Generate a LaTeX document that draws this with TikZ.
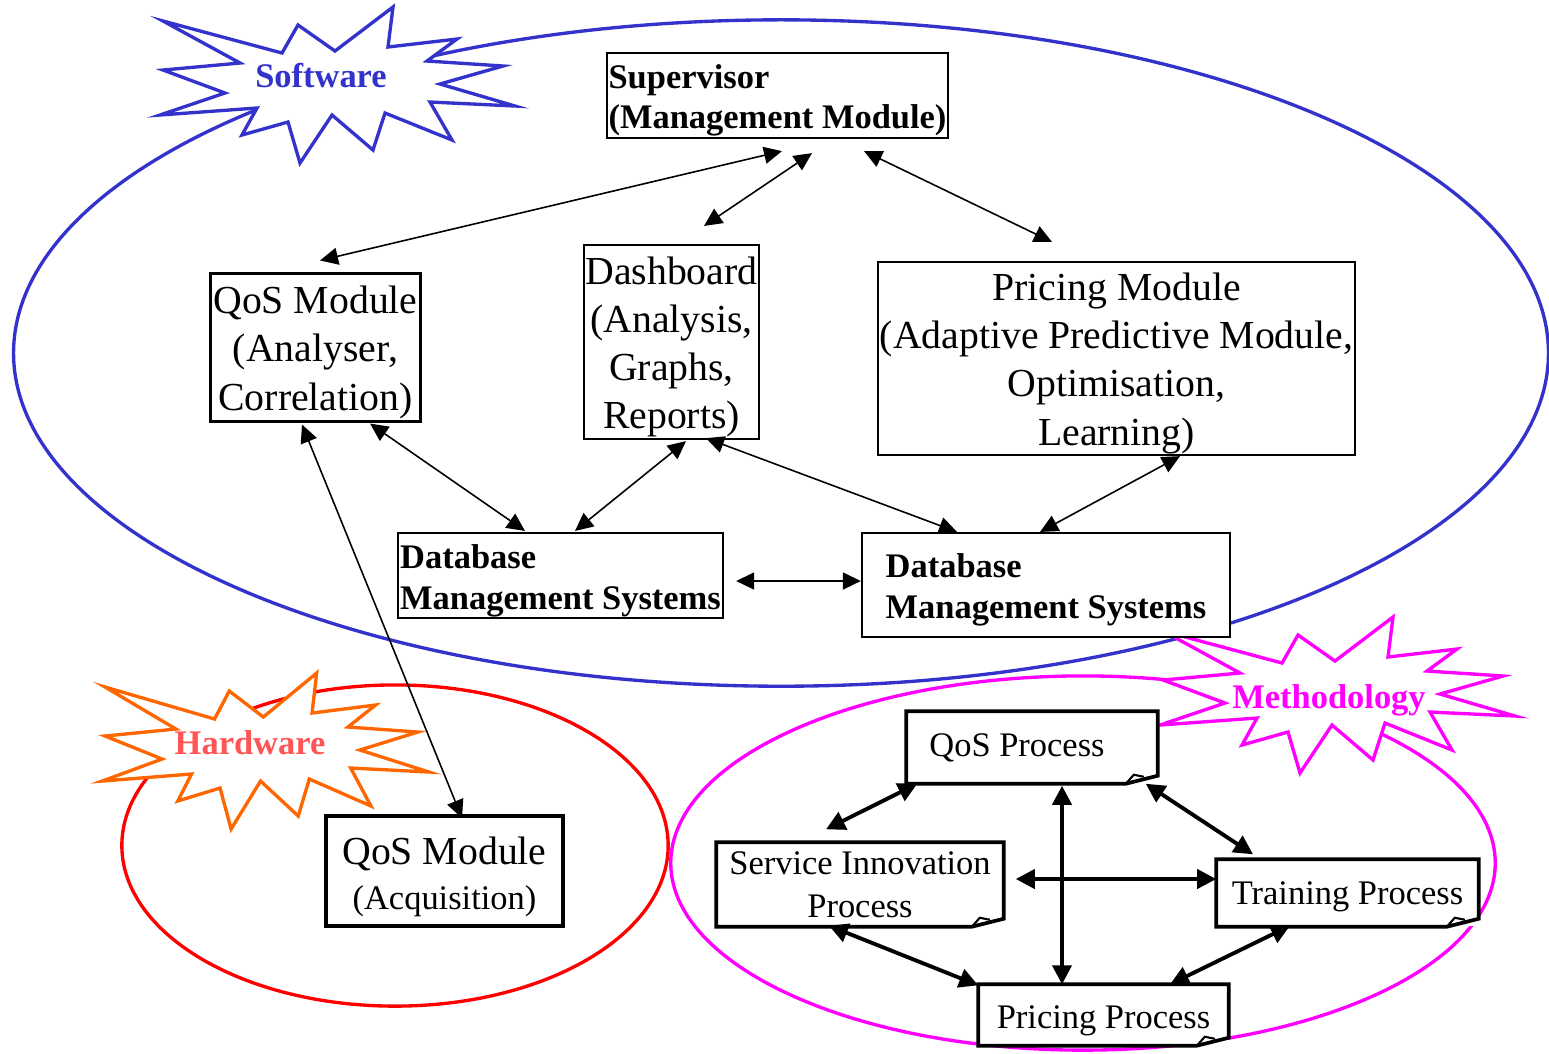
\documentclass[tikz,border=0pt]{standalone}
\usepackage{fontspec}
\setmainfont{Liberation Serif}
\usepackage{xcolor}
\definecolor{swblue}{RGB}{51,51,204}
\definecolor{hwred}{RGB}{255,0,0}
\definecolor{hworange}{RGB}{255,102,0}
\definecolor{hwtext}{RGB}{255,85,85}
\definecolor{methmag}{RGB}{255,0,255}
\usepackage{tikz}
\usetikzlibrary{arrows.meta, positioning, calc}

\newcommand{\tstrut}{\rule{0pt}{10.6pt}}
\newcommand{\bstrut}{\rule{0pt}{9.6pt}}

\tikzset{
  pics/burst/.style={code={
    \draw[line width=0.95pt, draw=#1, fill=white, miter limit=20]
      (240,63) -- (163,21) -- (282,53) -- (298,25) -- (335,51) -- (393,7)
      -- (388,47) -- (457,39) -- (427,61) -- (503,66) -- (440,84) -- (515,106)
      -- (430,102) -- (452,140) -- (385,113) -- (373,150) -- (332,115) -- (300,163)
      -- (288,122) -- (242,135) -- (257,108) -- (160,115) -- (225,93) -- (163,70) -- cycle;
  }},
  smod/.style={draw, line width=0.6pt, fill=white, inner sep=0pt, align=center,
    font=\fontsize{11.3}{13.7}\selectfont},
  bmod/.style={draw, line width=0.6pt, fill=white, inner sep=0pt, align=left,
    font=\bfseries\fontsize{9.8}{11.6}\selectfont},
  proc/.style={fill=white, inner sep=0pt, align=center, font=\fontsize{9.8}{12.2}\selectfont},
  docline/.style={line width=1.05pt, line join=miter},
  burstlabel/.style={font=\bfseries\fontsize{9.8}{11}\selectfont},
  sarr/.style={{Triangle[length=0.18cm,width=0.17cm]}-{Triangle[length=0.18cm,width=0.17cm]}, line width=0.45pt},
  parr/.style={{Triangle[length=0.19cm,width=0.19cm]}-{Triangle[length=0.19cm,width=0.19cm]}, line width=1.1pt}
}

\begin{document}
\begin{tikzpicture}[x=0.01cm, y=-0.01cm]
  \useasboundingbox (0,0) rectangle (1549,1053);

  % Domains
  \draw[line width=0.95pt, swblue] (781,353) ellipse [x radius=7.67cm, y radius=3.33cm];
  \draw[line width=0.95pt, hwred] (395,845.5) ellipse [x radius=2.73cm, y radius=1.605cm];
  \draw[line width=0.95pt, methmag] (1083,863) ellipse [x radius=4.12cm, y radius=1.87cm];

  % Bursts
  \pic at (0,0) {burst=swblue};
  \pic[xscale=0.92] at (-44.9,666) {burst=hworange};
  \pic at (1000,610) {burst=methmag};
  \node[burstlabel, swblue] (sw) at (321,76) {Software};
  \node[burstlabel, hwtext] (hw) at (250,743) {Hardware};
  \node[burstlabel, methmag] (meth) at (1329,700) {Methodology};

  % --- Software ---
  \node[bmod, minimum width=3.41cm, minimum height=0.85cm] (sup) at (777.5,95.5) {\bstrut Supervisor\\(Management Module)};
  \node[smod, line width=0.85pt, minimum width=2.09cm, minimum height=1.47cm] (qosmod) at (315.5,347.5) {\tstrut QoS Module\\(Analyser,\\Correlation)};
  \node[smod, minimum width=1.75cm, minimum height=1.94cm] (dash) at (671.5,342) {\tstrut Dashboard\\(Analysis,\\Graphs,\\Reports)};
  \node[smod, minimum width=4.77cm, minimum height=1.93cm] (pricing) at (1116.5,358.5) {\tstrut Pricing Module\\(Adaptive Predictive Module,\\Optimisation,\\Learning)};
  \node[bmod, minimum width=3.25cm, minimum height=0.85cm] (dbl) at (560.5,575.5) {\bstrut Database\\Management Systems};
  \node[bmod, minimum width=3.68cm, minimum height=1.04cm] (dbr) at (1046,585) {\bstrut Database\\Management Systems};

  \draw[sarr] ([shift={(4.5,12)}]sup.south) -- ([shift={(4.5,-12)}]qosmod.north);
  \draw[sarr] ([shift={(34.5,14)}]sup.south) -- ([shift={(32.5,-18)}]dash.north);
  \draw[sarr] ([shift={(86.5,12)}]sup.south) -- ([shift={(-64.5,-19)}]pricing.north);
  \draw[sarr] ([shift={(54.5,1)}]qosmod.south) -- ([shift={(-35.5,-1)}]dbl.north);
  \draw[sarr] ([shift={(14.5,1)}]dash.south) -- ([shift={(14.5,-1)}]dbl.north);
  \draw[sarr] ([shift={(34.5,-2)}]dash.south) -- ([shift={(-89,0)}]dbr.north);
  \draw[sarr] ([shift={(63.5,0)}]pricing.south) -- ([shift={(-6,0)}]dbr.north);
  \draw[sarr] ([shift={(12,5.5)}]dbl.east) -- ([shift={(0,-4)}]dbr.west);

  % --- Hardware ---
  \node[smod, line width=1.1pt, minimum width=2.37cm, minimum height=1.1cm] (acq) at (444.5,871) {\rule{0pt}{11.2pt}QoS Module\\[-1pt]{\fontsize{9.8}{12}\selectfont(Acquisition)}};
  \draw[sarr] ([shift={(-13.5,2)}]qosmod.south) -- ([shift={(17.5,4)}]acq.north);

  % --- Methodology ---
  \node[proc, minimum width=2.5cm, minimum height=0.71cm] (qosp) at (1032,747.5) {QoS Process\hspace*{0.3cm}};
  \node[proc, minimum width=2.86cm, minimum height=0.83cm] (sip) at (860,884.5) {Service Innovation\\Process};
  \node[proc, minimum width=2.61cm, minimum height=0.66cm] (trp) at (1347.5,893) {\rule{0pt}{8.6pt}Training Process};
  \node[proc, minimum width=2.49cm, minimum height=0.6cm] (prp) at (1103.5,1015) {\rule{0pt}{9.6pt}Pricing Process};
  \foreach \n in {qosp,sip,trp,prp} {
    \draw[docline] (\n.north west) -- (\n.north east) -- ([shift={(0,-8)}]\n.south east)
      -- ([shift={(-32,0)}]\n.south east) -- (\n.south west) -- cycle;
    \draw[line width=0.6pt] ([shift={(-32,0)}]\n.south east) -- ([shift={(-24,-9)}]\n.south east)
      -- ([shift={(-14,-7)}]\n.south east);
  }

  \draw[parr] ([shift={(11,0)}]qosp.south west) -- ([shift={(-34,-13)}]sip.north);
  \draw[parr] ([shift={(-12,0)}]qosp.south east) -- ([shift={(-94.5,-5)}]trp.north);
  \draw[parr] ([shift={(30,2)}]qosp.south) -- ([shift={(-41.5,0)}]prp.north);
  \draw[parr] ([shift={(12,-5.5)}]sip.east) -- ([shift={(0,-14)}]trp.west);
  \draw[parr] ([shift={(-31,-1)}]sip.south) -- ([shift={(0,1)}]prp.north west);
  \draw[parr] ([shift={(-57.5,-1)}]trp.south) -- ([shift={(66.5,0)}]prp.north);
\end{tikzpicture}
\end{document}
